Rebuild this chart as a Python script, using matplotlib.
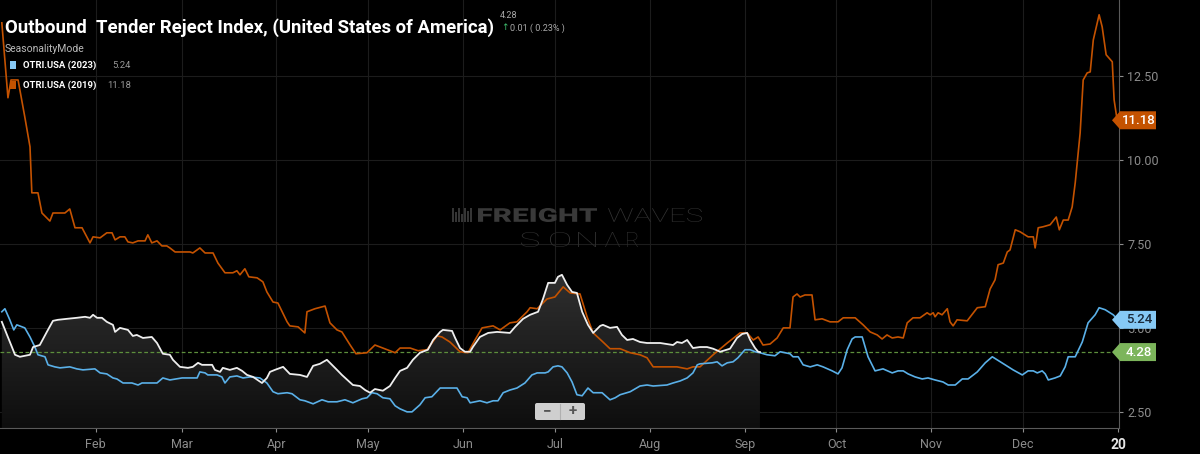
import numpy as np
import matplotlib
matplotlib.use("Agg")
import matplotlib.pyplot as plt
from matplotlib.patches import Polygon, FancyBboxPatch, PathPatch, Rectangle
from matplotlib.transforms import IdentityTransform, Affine2D
from matplotlib.textpath import TextPath
from matplotlib.font_manager import FontProperties

# day of year -> OTRI value (%)
days_2019 = [0.3, 2.3, 3.3, 5.6, 7.8, 9.5, 10.1, 12.1, 13.4, 16.0, 17.0, 20.9, 22.5, 24.2, 26.5, 29.1,
             30.1, 32.4, 34.6, 36.3, 37.3, 38.9, 40.5, 41.5, 43.1, 44.8, 47.1, 48.0, 49.3, 51.0, 52.6,
             54.2, 55.2, 56.9, 61.8, 62.7, 65.0, 66.7, 69.3, 70.9, 73.2, 75.8, 77.1, 78.1, 79.7, 81.0,
             83.7, 85.6, 86.9, 88.9, 90.5, 93.5, 94.4, 97.1, 99.3, 100.0, 102.6, 105.9, 107.5, 109.8,
             111.4, 114.1, 116.0, 119.6, 122.2, 124.8, 128.8, 130.4, 133.7, 136.3, 139.2, 142.5, 144.1,
             146.7, 150.0, 152.6, 154.9, 157.2, 160.8, 163.1, 166.3, 168.6, 171.9, 172.9, 175.2, 178.4,
             181.0, 183.7, 186.0, 189.2, 191.5, 193.5, 196.7, 199.0, 202.3, 205.6, 208.8, 211.1, 213.1,
             216.3, 220.9, 224.2, 226.1, 228.4, 232.7, 237.3, 241.5, 243.8, 245.8, 247.4, 249.0, 251.3,
             253.6, 255.6, 257.8, 258.8, 260.1, 261.1, 262.7, 265.0, 266.0, 268.3, 270.9, 273.5, 275.2,
             279.1, 281.7, 284.0, 286.3, 287.9, 289.5, 291.2, 293.1, 294.8, 296.1, 298.0, 300.3, 302.6,
             303.6, 304.6, 305.2, 306.2, 307.5, 309.2, 310.1, 311.1, 312.4, 315.7, 319.0, 321.6, 323.2,
             324.8, 325.8, 327.5, 328.8, 329.7, 331.4, 333.0, 335.6, 337.3, 337.9, 338.9, 340.5, 342.8,
             344.8, 345.8, 347.1, 348.7, 350.0, 351.0, 352.6, 353.6, 354.9, 355.9, 356.9, 358.8, 359.8,
             361.1, 363.1, 363.7, 364.7]
otri_2019 = [14.08, 11.85, 12.38, 12.38, 11.28, 10.39, 9.02, 9.02, 8.42, 8.18, 8.42, 8.42, 8.54, 7.98,
             7.98, 7.53, 7.71, 7.68, 7.83, 7.83, 7.62, 7.71, 7.71, 7.56, 7.53, 7.59, 7.59, 7.77, 7.53,
             7.59, 7.44, 7.44, 7.38, 7.26, 7.26, 7.23, 7.38, 7.23, 7.23, 6.93, 6.64, 6.64, 6.70, 6.58,
             6.76, 6.52, 6.49, 6.37, 6.07, 5.77, 5.74, 5.18, 5.06, 5.03, 4.85, 5.48, 5.57, 5.65, 5.15,
             4.94, 4.88, 4.49, 4.23, 4.26, 4.49, 4.40, 4.26, 4.40, 4.40, 4.32, 4.35, 4.76, 4.73, 4.58,
             4.29, 4.26, 4.64, 5.00, 5.06, 4.94, 5.15, 5.18, 5.48, 5.60, 5.57, 5.86, 5.92, 6.22, 6.04,
             6.01, 5.33, 4.85, 4.58, 4.38, 4.38, 4.26, 4.20, 4.11, 3.84, 3.84, 3.84, 3.78, 3.84, 3.84,
             4.20, 4.55, 4.85, 4.85, 4.64, 4.73, 4.49, 4.52, 4.70, 5.00, 5.00, 5.92, 6.01, 5.92, 5.98,
             5.98, 5.24, 5.27, 5.18, 5.18, 5.30, 5.30, 5.09, 4.88, 4.79, 4.67, 4.79, 4.70, 4.73, 4.70,
             5.15, 5.30, 5.30, 5.45, 5.39, 5.45, 5.33, 5.45, 5.39, 5.57, 5.18, 5.06, 5.24, 5.21, 5.60,
             5.63, 6.16, 6.43, 6.88, 6.93, 7.26, 7.32, 7.92, 7.86, 7.71, 7.71, 7.38, 7.98, 8.01, 8.07,
             8.30, 7.92, 8.21, 8.21, 8.60, 9.32, 10.80, 12.38, 12.59, 12.62, 13.57, 14.32, 13.96, 13.13,
             12.92, 11.79, 11.18]

days_2023 = [0.3, 1.3, 2.9, 4.2, 5.2, 7.8, 9.5, 11.1, 12.1, 14.4, 15.4, 17.6, 19.3, 22.5, 24.8, 26.8,
             30.7, 32.4, 34.6, 36.6, 37.9, 39.9, 42.8, 44.8, 46.1, 48.0, 51.0, 52.9, 55.2, 59.2, 61.8,
             64.1, 65.0, 66.7, 67.6, 70.6, 72.2, 73.2, 74.8, 77.1, 79.1, 81.4, 84.6, 86.9, 88.9, 90.5,
             93.5, 95.1, 97.7, 99.3, 102.0, 104.9, 106.9, 109.8, 112.4, 115.0, 118.0, 119.6, 121.2,
             122.9, 124.8, 127.1, 128.8, 130.4, 132.7, 134.3, 136.9, 138.6, 140.8, 143.5, 145.1, 149.0,
             150.7, 152.3, 153.3, 156.5, 158.8, 160.8, 162.4, 164.1, 166.3, 168.6, 171.2, 173.5, 175.2,
             177.8, 178.8, 180.4, 182.0, 183.3, 185.0, 186.6, 188.2, 189.9, 191.8, 193.5, 196.4, 199.0,
             200.7, 202.3, 205.6, 208.8, 211.1, 213.1, 217.6, 219.6, 221.9, 224.2, 226.1, 227.5, 228.4,
             232.4, 234.0, 235.6, 237.3, 239.2, 240.8, 243.1, 244.8, 246.4, 248.0, 250.3, 252.9, 254.6,
             256.2, 257.8, 258.8, 260.5, 262.1, 264.4, 266.7, 268.6, 271.6, 273.5, 274.8, 276.5, 278.1,
             279.1, 281.4, 283.3, 285.6, 288.2, 291.2, 293.1, 294.8, 296.4, 298.7, 301.0, 302.9, 305.2,
             307.8, 309.5, 311.8, 314.1, 316.0, 319.0, 321.6, 323.9, 325.5, 328.1, 330.7, 333.7, 335.6,
             337.3, 338.6, 340.2, 341.2, 342.2, 344.4, 346.1, 347.7, 348.7, 351.0, 353.3, 355.2, 357.5,
             358.8, 360.8, 363.4, 365.0]
otri_2023 = [5.48, 5.57, 5.24, 4.94, 5.09, 5.00, 4.73, 4.43, 4.20, 4.14, 3.90, 3.84, 3.81, 3.84, 3.78,
             3.75, 3.78, 3.66, 3.63, 3.51, 3.48, 3.36, 3.36, 3.30, 3.36, 3.36, 3.36, 3.51, 3.45, 3.51,
             3.51, 3.51, 3.69, 3.66, 3.60, 3.60, 3.54, 3.36, 3.54, 3.57, 3.51, 3.54, 3.51, 3.36, 3.10,
             3.04, 3.07, 3.04, 2.86, 2.83, 2.74, 2.86, 2.80, 2.80, 2.86, 2.77, 2.89, 2.92, 3.07, 3.04,
             2.92, 2.89, 2.68, 2.59, 2.50, 2.50, 2.71, 2.92, 2.95, 3.21, 3.21, 3.21, 2.95, 2.92, 2.77,
             2.83, 2.77, 2.83, 2.83, 3.07, 3.15, 3.21, 3.36, 3.60, 3.66, 3.66, 3.69, 3.84, 3.87, 3.84,
             3.66, 3.39, 3.01, 2.98, 3.21, 3.07, 3.07, 2.86, 2.92, 3.01, 3.10, 3.27, 3.30, 3.27, 3.30,
             3.36, 3.42, 3.51, 3.66, 3.90, 3.93, 3.96, 3.99, 3.87, 3.96, 3.99, 4.11, 4.35, 4.35, 4.29,
             4.26, 4.20, 4.17, 4.29, 4.26, 4.23, 4.14, 4.14, 3.90, 3.84, 3.90, 3.84, 3.72, 3.63, 3.81,
             4.35, 4.67, 4.73, 4.73, 4.14, 3.72, 3.78, 3.66, 3.72, 3.72, 3.63, 3.54, 3.48, 3.51, 3.45,
             3.39, 3.30, 3.30, 3.48, 3.48, 3.69, 3.96, 4.14, 4.05, 3.90, 3.75, 3.60, 3.72, 3.72, 3.66,
             3.72, 3.63, 3.45, 3.51, 3.57, 3.84, 4.14, 4.14, 4.58, 5.15, 5.39, 5.60, 5.54, 5.39, 5.24]

# current year (white line with shaded area)
days_cur = [0.3, 2.0, 3.6, 4.6, 6.2, 9.5, 10.5, 12.7, 15.0, 17.0, 18.6, 21.6, 24.8, 27.5, 29.1, 30.1,
            31.4, 33.0, 34.6, 36.6, 37.3, 38.9, 41.5, 43.1, 44.4, 46.4, 49.3, 51.0, 52.9, 55.2, 56.2,
            58.5, 61.1, 62.7, 64.4, 65.7, 69.0, 69.9, 71.6, 72.5, 74.8, 77.1, 78.8, 80.4, 82.4, 85.3,
            86.9, 87.9, 89.5, 92.2, 94.4, 97.7, 100.0, 102.0, 104.2, 106.5, 107.5, 109.8, 111.4, 115.0,
            117.3, 119.0, 120.6, 122.2, 124.8, 127.1, 128.8, 130.4, 132.7, 134.6, 136.9, 139.5, 141.2,
            143.5, 144.4, 147.4, 148.4, 150.0, 151.6, 153.3, 154.2, 156.5, 159.2, 162.1, 166.3, 168.0,
            170.6, 172.9, 175.5, 177.1, 178.8, 181.0, 182.0, 183.3, 185.0, 186.6, 188.2, 189.9, 191.8,
            193.5, 195.8, 196.7, 199.0, 201.3, 202.9, 204.6, 206.5, 208.8, 211.1, 215.4, 219.6, 220.9,
            222.5, 224.2, 226.1, 228.4, 230.7, 232.7, 235.0, 238.2, 240.5, 242.2, 243.8, 244.8, 246.4,
            247.4, 248.0]
otri_cur = [5.18, 4.79, 4.43, 4.20, 4.14, 4.20, 4.43, 4.49, 4.88, 5.21, 5.24, 5.27, 5.30, 5.33, 5.30,
            5.39, 5.30, 5.30, 5.18, 5.09, 4.88, 5.00, 4.94, 4.76, 4.79, 4.70, 4.73, 4.55, 4.23, 4.20,
            4.05, 3.84, 3.81, 3.84, 3.96, 3.90, 3.90, 3.75, 3.69, 3.81, 3.75, 3.81, 3.72, 3.60, 3.54,
            3.36, 3.51, 3.69, 3.75, 3.84, 3.63, 3.60, 3.54, 3.87, 3.93, 4.05, 3.96, 3.75, 3.60, 3.30,
            3.27, 3.15, 3.07, 3.18, 3.13, 3.27, 3.51, 3.72, 3.81, 4.05, 4.26, 4.35, 4.64, 4.88, 4.94,
            4.91, 4.70, 4.40, 4.29, 4.29, 4.43, 4.73, 4.85, 4.88, 4.85, 5.03, 5.27, 5.39, 5.48, 5.86,
            6.34, 6.34, 6.52, 6.58, 6.28, 6.07, 6.04, 5.48, 5.09, 4.85, 5.06, 5.09, 5.00, 5.03, 4.79,
            4.64, 4.67, 4.58, 4.55, 4.55, 4.49, 4.58, 4.55, 4.64, 4.40, 4.43, 4.43, 4.38, 4.29, 4.38,
            4.70, 4.82, 4.85, 4.64, 4.40, 4.29, 4.28]

month_days = [31, 59, 90, 120, 151, 181, 212, 243, 273, 304, 334]
month_labels = ["Feb", "Mar", "Apr", "May", "Jun", "Jul", "Aug", "Sep", "Oct", "Nov", "Dec"]
y_ticks = [2.5, 5.0, 7.5, 10.0, 12.5]
last_cur, last_2023, last_2019 = 4.28, 5.24, 11.18

plt.rcParams['font.family'] = ['Roboto', 'DejaVu Sans']
W, H = 1200, 454

fig = plt.figure(figsize=(12, 4.54), dpi=100, facecolor='black')
ax = fig.add_axes([0.0, 26 / H, 1119 / W, 428 / H])
ax.set_facecolor('black')
ax.set_xlim(-0.3, 365.3)
ax.set_ylim(2.02, 14.76)


def fit_text(s, x0, x1, ytop, ybot, weight, color):
    # draw a string stretched into a pixel box (top-left origin)
    tp = TextPath((0, 0), s, size=10, prop=FontProperties(family='Roboto', weight=weight))
    ext = tp.get_extents()
    sx = (x1 - x0) / ext.width
    sy = (ybot - ytop) / ext.height
    tr = Affine2D().translate(-ext.x0, -ext.y0).scale(sx, sy).translate(x0, H - ybot)
    fig.add_artist(PathPatch(tp, facecolor=color, edgecolor='none', lw=0,
                             transform=tr + IdentityTransform(), zorder=1))


# grid
for d in month_days:
    ax.axvline(d, color='#1c1c1c', lw=0.8, zorder=0)
for v in y_ticks:
    ax.axhline(v, color='#1c1c1c', lw=0.8, zorder=0)

# watermark
fit_text("FREIGHT", 478, 597, 208, 222, 'black', '#393939')
fit_text("WAVES", 608, 702, 208, 222, 'light', '#333333')
for ch, a, b in [("S", 521, 539), ("O", 550, 570), ("N", 578, 596), ("\u039b", 605, 620), ("R", 627, 638)]:
    fit_text(ch, a, b, 232, 247, 'light', '#2e2e2e')
for i, bx in enumerate(np.arange(452, 471, 3)):
    hgt = [14, 10, 14, 8, 14, 11, 14][i]
    fig.add_artist(Rectangle((bx, H - 222), 1.6, hgt, facecolor='#353535', edgecolor='none',
                             transform=IdentityTransform(), zorder=1))

# shaded area under current-year line (vertical gradient)
xc = np.array(days_cur)
yc = np.array(otri_cur)
poly = ax.fill_between(xc, yc, 2.02, color='none', lw=0)
grad = np.linspace(0, 1, 256).reshape(-1, 1)
img = ax.imshow(grad, extent=[0, xc[-1], 2.02, 6.7], origin='lower', aspect='auto',
                cmap=matplotlib.colors.LinearSegmentedColormap.from_list('g', ['#0e0e0e', '#303030']),
                zorder=2)
img.set_clip_path(poly.get_paths()[0], transform=ax.transData)
ax.set_xlim(-0.3, 365.3)
ax.set_ylim(2.02, 14.76)

ax.plot(days_2019, otri_2019, color='#c45200', lw=1.2, zorder=4)
ax.plot(days_2023, otri_2023, color='#5ab0e8', lw=1.2, zorder=4)
ax.plot(days_cur, otri_cur, color='#eeeeee', lw=1.3, zorder=5)
ax.axhline(last_cur, color='#5d8f3c', lw=0.9, ls=(0, (3, 2)), zorder=3)

# axes styling
for s in ['top', 'left']:
    ax.spines[s].set_visible(False)
ax.spines['right'].set_color('#5a5a5a')
ax.spines['bottom'].set_color('#5a5a5a')
ax.yaxis.tick_right()
ax.set_yticks(y_ticks)
ax.set_yticklabels(["%.2f" % v for v in y_ticks])
ax.set_xticks(month_days + [365])
ax.set_xticklabels(month_labels + ["20"])
ax.tick_params(axis='y', colors='#8c8c8c', labelsize=9, length=3, width=0.8, pad=3)
ax.tick_params(axis='x', colors='#8c8c8c', labelsize=9, length=3, width=0.8, pad=4)
xl = ax.get_xticklabels()[-1]
xl.set_color('#e6e6e6')
xl.set_fontweight('bold')
xl.set_fontsize(10)

# value tags on right axis
x1 = ax.bbox.x1
for v, bg, fg in [(last_2019, '#c45200', 'white'), (last_2023, '#86c9f5', '#1a2a3a'),
                  (last_cur, '#7cb55b', 'white')]:
    yd = ax.transData.transform((0, v))[1]
    pts = [(x1 - 7, yd), (x1 + 1, yd + 9), (x1 + 37, yd + 9), (x1 + 37, yd - 9), (x1 + 1, yd - 9)]
    fig.add_artist(Polygon(pts, closed=True, facecolor=bg, edgecolor='none',
                           transform=IdentityTransform(), zorder=10))
    fig.text((x1 + 20) / W, yd / H, "%.2f" % v, ha='center', va='center',
             fontsize=9.5, fontweight='medium', color=fg, zorder=11)

# zoom buttons
btn = FancyBboxPatch((535, H - 420), 50, 17, boxstyle='round,pad=0,rounding_size=2',
                     facecolor='#cfcfcf', edgecolor='none', transform=IdentityTransform(), zorder=10)
fig.add_artist(btn)
fig.add_artist(plt.Line2D([560, 560], [H - 419, H - 404], color='#b0b0b0', lw=0.8,
                          transform=IdentityTransform(), zorder=11))
fig.text(547 / W, (H - 411.5) / H, "\u2212", ha='center', va='center', fontsize=11,
         fontweight='bold', color='#555555', zorder=12)
fig.text(573 / W, (H - 411.5) / H, "+", ha='center', va='center', fontsize=11,
         fontweight='bold', color='#555555', zorder=12)

# header
fig.text(5 / W, 1 - 28 / H, "Outbound  Tender Reject Index, (United States of America)",
         ha='left', va='center', fontsize=13.3, fontweight='bold', color='white')
fig.text(500 / W, 1 - 16 / H, "4.28", ha='left', va='center', fontsize=6.5, color='#aaaaaa')
fig.text(501 / W, 1 - 28 / H, "\u2191", ha='left', va='center', fontsize=6.5,
         color='#3fbf6f', family=['DejaVu Sans'])
fig.text(510 / W, 1 - 28 / H, "0.01 ( 0.23% )", ha='left', va='center', fontsize=6.5,
         color='#aaaaaa')
fig.text(5 / W, 1 - 49 / H, "SeasonalityMode", ha='left', va='center', fontsize=7.5,
         color='#bbbbbb')
for yy, col, lab, val, vx in [(65, '#86c9f5', "OTRI.USA (2023)", "5.24", 112),
                              (85, '#c45200', "OTRI.USA (2019)", "11.18", 107)]:
    fig.add_artist(Rectangle((10, H - yy - 4), 6, 8, facecolor=col, edgecolor='none',
                             transform=IdentityTransform()))
    fig.text(23 / W, 1 - yy / H, lab, ha='left', va='center', fontsize=6.8,
             fontweight='bold', color='white')
    fig.text(vx / W, 1 - yy / H, val, ha='left', va='center', fontsize=6.8, color='#999999')

fig.savefig('out.png', dpi=100, facecolor='black')
